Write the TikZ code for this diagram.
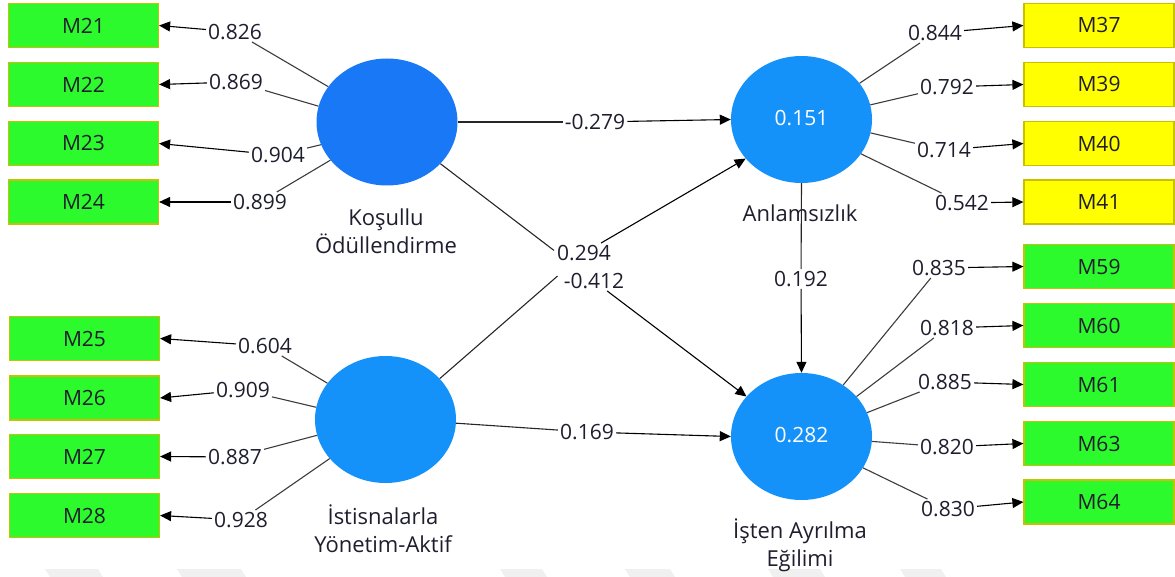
\documentclass[tikz,border=0pt]{standalone}
\usepackage{fontspec}
\setmainfont{Open Sans}
\usetikzlibrary{shapes.geometric,arrows.meta}
\definecolor{boxgreen}{HTML}{2CFA2C}
\definecolor{boxyellow}{HTML}{FFFF00}
\definecolor{boxedge}{HTML}{C8C000}
\definecolor{lvdark}{HTML}{1878F5}
\definecolor{lvlight}{HTML}{1592FA}
\definecolor{ink}{HTML}{1E1E2E}
\definecolor{wline}{HTML}{3C3C3C}
\definecolor{faintgray}{HTML}{F0F0F0}

\begin{document}
\begin{tikzpicture}[x=1pt,y=-1pt,
  font=\fontsize{21}{26}\selectfont,
  indbox/.style={rectangle, draw=boxedge, line width=1.2pt,
    minimum width=150pt, minimum height=44pt, inner sep=0pt, text=ink},
  greenbox/.style={indbox, fill=boxgreen},
  yellowbox/.style={indbox, fill=boxyellow},
  lv/.style={ellipse, minimum width=141pt, minimum height=127pt,
    inner sep=0pt, text=white},
  lvname/.style={align=center, text=ink, font=\fontsize{22}{28}\selectfont},
  coef/.style={inner sep=2pt, text=ink},
  ld/.style={draw=wline, line width=1.1pt},
  sl/.style={draw=black!85, line width=1.1pt},
  ar/.style={draw=black, line width=1.1pt, -{Triangle[length=11pt,width=10pt]}},
]
\useasboundingbox (0,0) rectangle (1175,577);

% faint marks along the bottom edge
\foreach \a/\b in {45/98,177/241,500/542,625/670,768/820,900/941}
  \fill[faintgray] (\a,569) -- (\b,569) -- (\b+5,577) -- (\a+5,577) -- cycle;

% latent variables
\node[lv, fill=lvdark]  (K) at (387,122) {};
\node[lv, fill=lvlight] (S) at (385.5,419.5) {};
\node[lv, fill=lvlight] (A) at (801.5,119.5) {\raisebox{4pt}{0.151}};
\node[lv, fill=lvlight] (I) at (801.5,436.5) {\raisebox{4pt}{0.282}};

\node[lvname] (Kname) at (386,231) {Koşullu\\Ödüllendirme};
\node[lvname] (Sname) at (383,529) {İstisnalarla\\Yönetim-Aktif};
\node[lvname] (Aname) at (800,213) {Anlamsızlık};
\node[lvname] (Iname) at (800,545) {İşten Ayrılma\\Eğilimi};

% indicators
\node[greenbox] (m21) at (83.5,25.5) {M21};
\node[greenbox] (m22) at (83.5,84.5) {M22};
\node[greenbox] (m23) at (83.5,143.5) {M23};
\node[greenbox] (m24) at (83.5,202) {M24};
\node[greenbox] (m25) at (84.5,338.5) {M25};
\node[greenbox] (m26) at (84.5,398) {M26};
\node[greenbox] (m27) at (84.5,456.5) {M27};
\node[greenbox] (m28) at (84.5,515.5) {M28};

\node[yellowbox] (m37) at (1099,25.5) {M37};
\node[yellowbox] (m39) at (1099,84.5) {M39};
\node[yellowbox] (m40) at (1099,143.5) {M40};
\node[yellowbox] (m41) at (1099,202) {M41};
\node[greenbox] (m59) at (1099,266.5) {M59};
\node[greenbox] (m60) at (1099,325.5) {M60};
\node[greenbox] (m61) at (1099,384.5) {M61};
\node[greenbox] (m63) at (1099,443.5) {M63};
\node[greenbox] (m64) at (1099,502) {M64};

% outer loadings
\node[coef] (w21) at (235,32) {0.826};
\node[coef] (w22) at (236,82) {0.869};
\node[coef] (w23) at (278,155) {0.904};
\node[coef] (w24) at (260,202) {0.899};
\node[coef] (w25) at (265,346) {0.604};
\node[coef] (w26) at (243,390) {0.909};
\node[coef] (w27) at (235,457) {0.887};
\node[coef] (w28) at (241,520) {0.928};

\node[coef] (w37) at (935,33) {0.844};
\node[coef] (w39) at (947,87) {0.792};
\node[coef] (w40) at (944,150) {0.714};
\node[coef] (w41) at (962,203) {0.542};
\node[coef] (w59) at (939,268) {0.835};
\node[coef] (w60) at (947,328) {0.818};
\node[coef] (w61) at (945,382) {0.885};
\node[coef] (w63) at (947,447) {0.820};
\node[coef] (w64) at (948,509) {0.830};

% path coefficients
\node[coef] (pKA) at (595,122) {-0.279};
\node[coef] (pSA) at (584,253) {0.294};
\node[coef] (pKI) at (594,281) {-0.412};
\node[coef] (pSI) at (587,432) {0.169};
\node[coef] (pAI) at (801,279) {0.192};

% loading connectors
\draw[ld] (K.149) -- (w21);   \draw[ar] (w21) -- (m21.east);
\draw[ld] (K.167) -- (w22);   \draw[ar] (w22) -- (m22.east);
\draw[ld] (K.199) -- (w23);   \draw[ar] (w23) -- (m23.east);
\draw[ld] (K.214) -- (w24);   \draw[ar] (w24) -- (m24.east);
\draw[ld] (S.148) -- (w25);   \draw[ar] (w25) -- (m25.east);
\draw[ld] (S.170) -- (w26);   \draw[ar] (w26) -- (m26.east);
\draw[ld] (S.193) -- (w27);   \draw[ar] (w27) -- (m27.east);
\draw[ld] (S.215) -- (w28);   \draw[ar] (w28) -- (m28.east);

\draw[ld] (A.32) -- (w37);    \draw[ar] (w37) -- (m37.west);
\draw[ld] (A.12) -- (w39);    \draw[ar] (w39) -- (m39.west);
\draw[ld] (A.-11) -- (w40);   \draw[ar] (w40) -- (m40.west);
\draw[ld] (A.-30) -- (w41);   \draw[ar] (w41) -- (m41.west);
\draw[ld] (I.51) -- (w59);    \draw[ar] (w59) -- (m59.west);
\draw[ld] (I.36) -- (w60);    \draw[ar] (w60) -- (m60.west);
\draw[ld] (I.20) -- (w61);    \draw[ar] (w61) -- (m61.west);
\draw[ld] (I.-4) -- (w63);    \draw[ar] (w63) -- (m63.west);
\draw[ld] (I.-27) -- (w64);   \draw[ar] (w64) -- (m64.west);

% structural paths
\draw[sl] (K.0) -- (pKA);     \draw[ar] (pKA) -- (A.west);
\draw[sl, shorten >=34pt] (K.-38) -- (pKI);  \draw[ar] (pKI) -- (I.144);
\draw[sl, shorten >=20pt] (S.37) -- (pSA);   \draw[ar] (pSA) -- (A.215);
\draw[sl] (S.-3) -- (pSI);    \draw[ar] (pSI) -- (I.west);
\draw[sl] (A.south) -- (pAI); \draw[ar] (pAI) -- (I.north);
\end{tikzpicture}
\end{document}
